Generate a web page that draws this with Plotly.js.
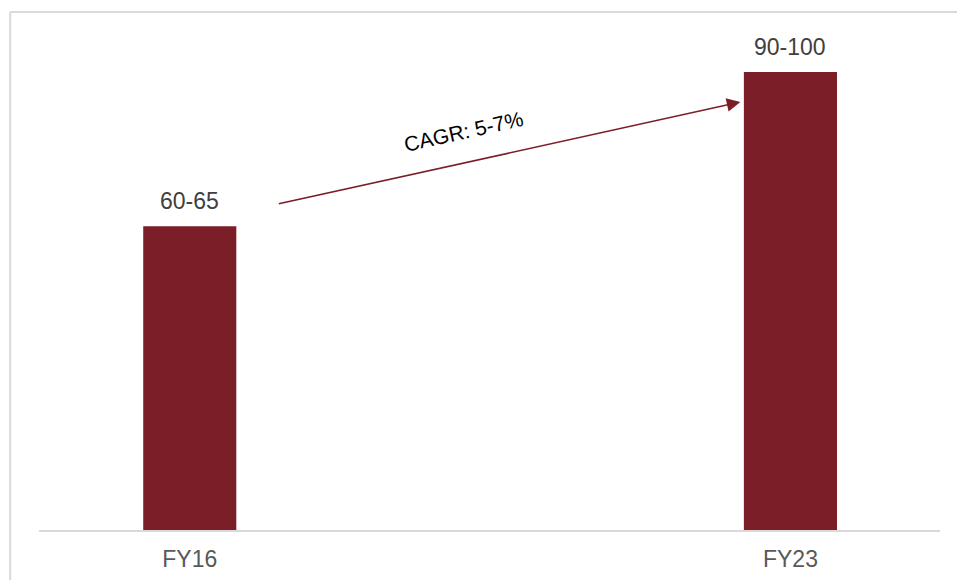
<!DOCTYPE html>
<html>
<head>
<meta charset="utf-8">
<script src="https://cdn.plot.ly/plotly-3.0.1.min.js"></script>
<style>html,body{margin:0;padding:0;background:#fff;}#chart{width:957px;height:580px;}</style>
</head>
<body>
<div id="chart"></div>
<script>
const categories = ["FY16", "FY23"];
const values = [63, 95];
const valueLabels = ["60-65", "90-100"];
const cagrLabel = "CAGR: 5-7%";

const barColor = "#7B1E28";
const fontFam = "Arial, 'Liberation Sans', sans-serif";

const trace = {
  type: "bar",
  x: [0, 1],
  y: values,
  width: 0.155,
  marker: {color: barColor},
  hoverinfo: "skip"
};

const annotations = valueLabels.map((t, i) => ({
  x: i, y: values[i], xref: "x", yref: "y",
  text: t, showarrow: false, yanchor: "bottom", yshift: 10,
  font: {family: fontFam, size: 23, color: "#404040"}
}));

annotations.push({
  x: 0.9167, y: 88.8, ax: 0.1457, ay: 67.6,
  xref: "x", yref: "y", axref: "x", ayref: "y",
  text: "", showarrow: true, arrowhead: 2, arrowsize: 1.7, arrowwidth: 1.6,
  arrowcolor: barColor
});
annotations.push({
  x: 0.455, y: 82.6, xref: "x", yref: "y",
  text: cagrLabel, showarrow: false, textangle: -12.6,
  font: {family: fontFam, size: 21, color: "#000000"}
});

const layout = {
  width: 957, height: 580,
  margin: {l: 39, r: 17, t: 48, b: 50},
  paper_bgcolor: "#ffffff", plot_bgcolor: "#ffffff",
  showlegend: false,
  xaxis: {
    range: [-0.251, 1.249],
    tickmode: "array", tickvals: [0, 1], ticktext: categories,
    showline: true, linecolor: "#D9D9D9", linewidth: 2,
    showgrid: false, zeroline: false, ticks: "",
    ticklabelstandoff: 7,
    tickfont: {family: fontFam, size: 23, color: "#595959"}
  },
  yaxis: {
    range: [0, 100], visible: false, showgrid: false, zeroline: false
  },
  annotations: annotations,
  shapes: [
    {type: "line", xref: "paper", yref: "paper", x0: -0.032, x1: 1.05, y0: 1.0747, y1: 1.0747,
     line: {color: "#D9D9D9", width: 2}},
    {type: "line", xref: "paper", yref: "paper", x0: -0.032, x1: -0.032, y0: 1.0747, y1: -0.2,
     line: {color: "#D9D9D9", width: 2}}
  ]
};

Plotly.newPlot("chart", [trace], layout, {displayModeBar: false, staticPlot: true});
</script>
</body>
</html>
